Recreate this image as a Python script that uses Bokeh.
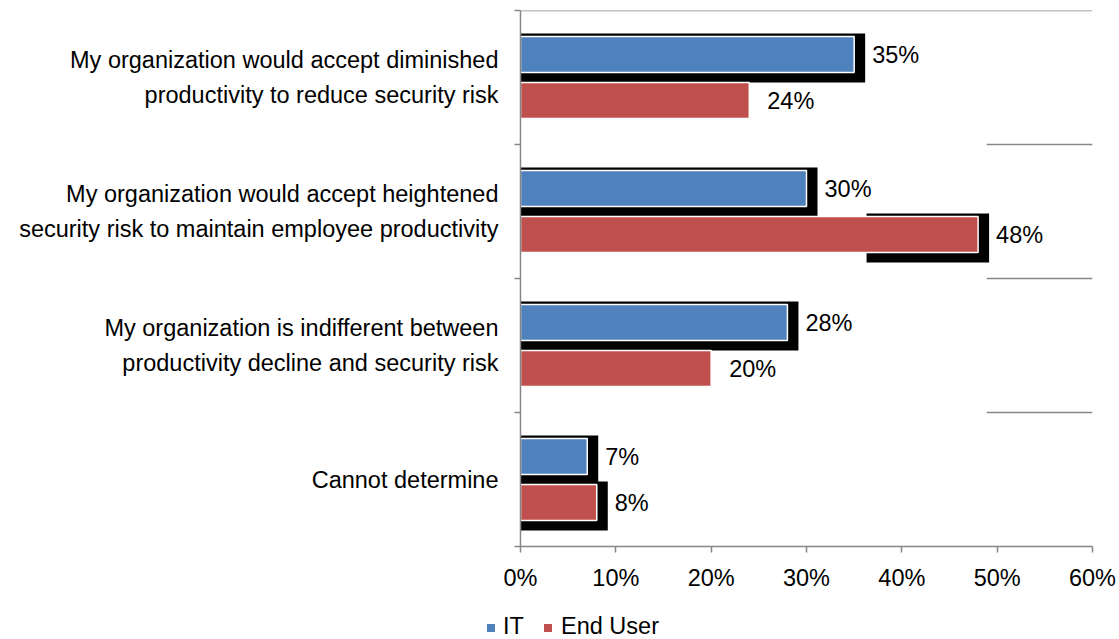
from bokeh.plotting import figure
from bokeh.layouts import column
from bokeh.models import (ColumnDataSource, LabelSet, FixedTicker, NumeralTickFormatter,
                          Range1d, Div)
from bokeh.core.properties import value
from bokeh.embed import file_html
from bokeh.resources import INLINE

# ---- data ----
categories = [
    "My organization would accept diminished\nproductivity to reduce security risk",
    "My organization would accept heightened\nsecurity risk to maintain employee productivity",
    "My organization is indifferent between\nproductivity decline and security risk",
    "Cannot determine",
]
it_values = [0.35, 0.30, 0.28, 0.07]
eu_values = [0.24, 0.48, 0.20, 0.08]
x_ticks = [0, 0.1, 0.2, 0.3, 0.4, 0.5, 0.6]
series_names = ["IT", "End User"]

# ---- style ----
BLUE = "#4F81BD"
RED = "#C0504D"
GRID = "#878787"
FONT = "Liberation Sans"
FS = "23.5px"
it_shadow = [True, True, True, True]
eu_shadow = [False, True, False, True]
eu_shadow_from = [0.0, 0.363, 0.0, 0.0]

W, H = 1119, 639
LEG_H = 29
MAIN_H = H - LEG_H
LEFT, RIGHT, TOP = 520, 27, 10
BOTTOM = MAIN_H - 546
fw = W - LEFT - RIGHT
fh = MAIN_H - TOP - BOTTOM
XMAX = 0.6
NCAT = len(categories)
px_x = XMAX / fw
px_y = NCAT / fh

p = figure(width=W, height=MAIN_H, output_backend="svg", toolbar_location=None,
           x_range=Range1d(0, XMAX), y_range=Range1d(0, NCAT),
           min_border_left=LEFT, min_border_right=RIGHT,
           min_border_top=TOP, min_border_bottom=BOTTOM)
p.outline_line_color = None
p.xgrid.visible = False
p.ygrid.visible = False
p.background_fill_color = "white"
p.border_fill_color = "white"

centers = [NCAT - i - 0.5 for i in range(NCAT)]
off = 23 * px_y
bh = 36 * px_y
it_y = [c + off for c in centers]
eu_y = [c - off for c in centers]

# gridlines (category boundaries)
p.segment(x0=[0], x1=[XMAX], y0=[NCAT], y1=[NCAT], line_color=GRID, line_width=1.5)
p.segment(x0=[0.489] * (NCAT - 1), x1=[XMAX] * (NCAT - 1), y0=list(range(1, NCAT)),
          y1=list(range(1, NCAT)), line_color=GRID, line_width=1.5)

# shadows
def shadows(vals, ys, flags, starts):
    l, r, t, b = [], [], [], []
    for v, y, f, s in zip(vals, ys, flags, starts):
        if f:
            l.append(s)
            r.append(v + 11 * px_x)
            t.append(y + bh / 2 + 3 * px_y)
            b.append(y - bh / 2 - 10 * px_y)
    return dict(left=l, right=r, top=t, bottom=b)

p.quad(source=ColumnDataSource(shadows(it_values, it_y, it_shadow, [0.0] * NCAT)),
       left="left", right="right", top="top", bottom="bottom", fill_color="black", line_color=None)
p.quad(source=ColumnDataSource(shadows(eu_values, eu_y, eu_shadow, eu_shadow_from)),
       left="left", right="right", top="top", bottom="bottom", fill_color="black", line_color=None)

src_it = ColumnDataSource(dict(y=it_y, v=it_values, lbl=[f"{round(v*100)}%" for v in it_values]))
src_eu = ColumnDataSource(dict(y=eu_y, v=eu_values, lbl=[f"{round(v*100)}%" for v in eu_values]))
p.hbar(y="y", right="v", left=0, height=bh, source=src_it, fill_color=BLUE,
       line_color="white", line_width=1.5)
p.hbar(y="y", right="v", left=0, height=bh, source=src_eu, fill_color=RED,
       line_color="white", line_width=1.5)

for src in (src_it, src_eu):
    p.add_layout(LabelSet(x="v", y="y", text="lbl", source=src, x_offset=18,
                          text_baseline="middle", text_align="left",
                          text_font=value(FONT), text_font_size=FS, text_color="black"))

# axes
xa = p.xaxis[0]
xa.ticker = FixedTicker(ticks=x_ticks)
xa.formatter = NumeralTickFormatter(format="0%")
xa.axis_line_color = GRID
xa.axis_line_width = 1.5
xa.major_tick_line_color = GRID
xa.major_tick_line_width = 1.5
xa.major_tick_out = 6
xa.major_tick_in = 0
xa.minor_tick_line_color = None
xa.major_label_text_font = FONT
xa.major_label_text_font_size = FS
xa.major_label_text_color = "black"
xa.major_label_standoff = 12

ya = p.yaxis[0]
ya.ticker = FixedTicker(ticks=centers, minor_ticks=list(range(0, NCAT + 1)))
ya.major_label_overrides = {c: name for c, name in zip(centers, categories)}
ya.axis_line_color = GRID
ya.axis_line_width = 1.5
ya.major_tick_line_color = None
ya.major_tick_out = 0
ya.major_tick_in = 0
ya.minor_tick_line_color = GRID
ya.minor_tick_line_width = 1.5
ya.minor_tick_out = 6
ya.minor_tick_in = 0
ya.major_label_text_font = FONT
ya.major_label_text_font_size = FS
ya.major_label_text_color = "black"
ya.major_label_text_align = "right"
ya.major_label_text_line_height = 1.36
ya.major_label_standoff = 16

# ---- legend strip (HTML) ----
def sq(left, color):
    return (f'<span style="position:absolute;left:{left}px;top:14px;width:8px;height:8px;'
            f'background:{color};"></span>')

def tx(left, text):
    return (f'<span style="position:absolute;left:{left}px;top:5px;line-height:1;'
            f'white-space:nowrap;">{text}</span>')

legend_html = (f'<div style="position:relative;width:{W}px;height:{LEG_H}px;'
               f'font-family:\'{FONT}\';font-size:{FS};color:#000;">'
               + sq(487, BLUE) + tx(503, series_names[0])
               + sq(544, RED) + tx(561, series_names[1]) + '</div>')
legend_div = Div(text=legend_html, width=W, height=LEG_H, margin=(0, 0, 0, 0))

open("out.html", "w").write(file_html(column(p, legend_div, spacing=0), INLINE))
